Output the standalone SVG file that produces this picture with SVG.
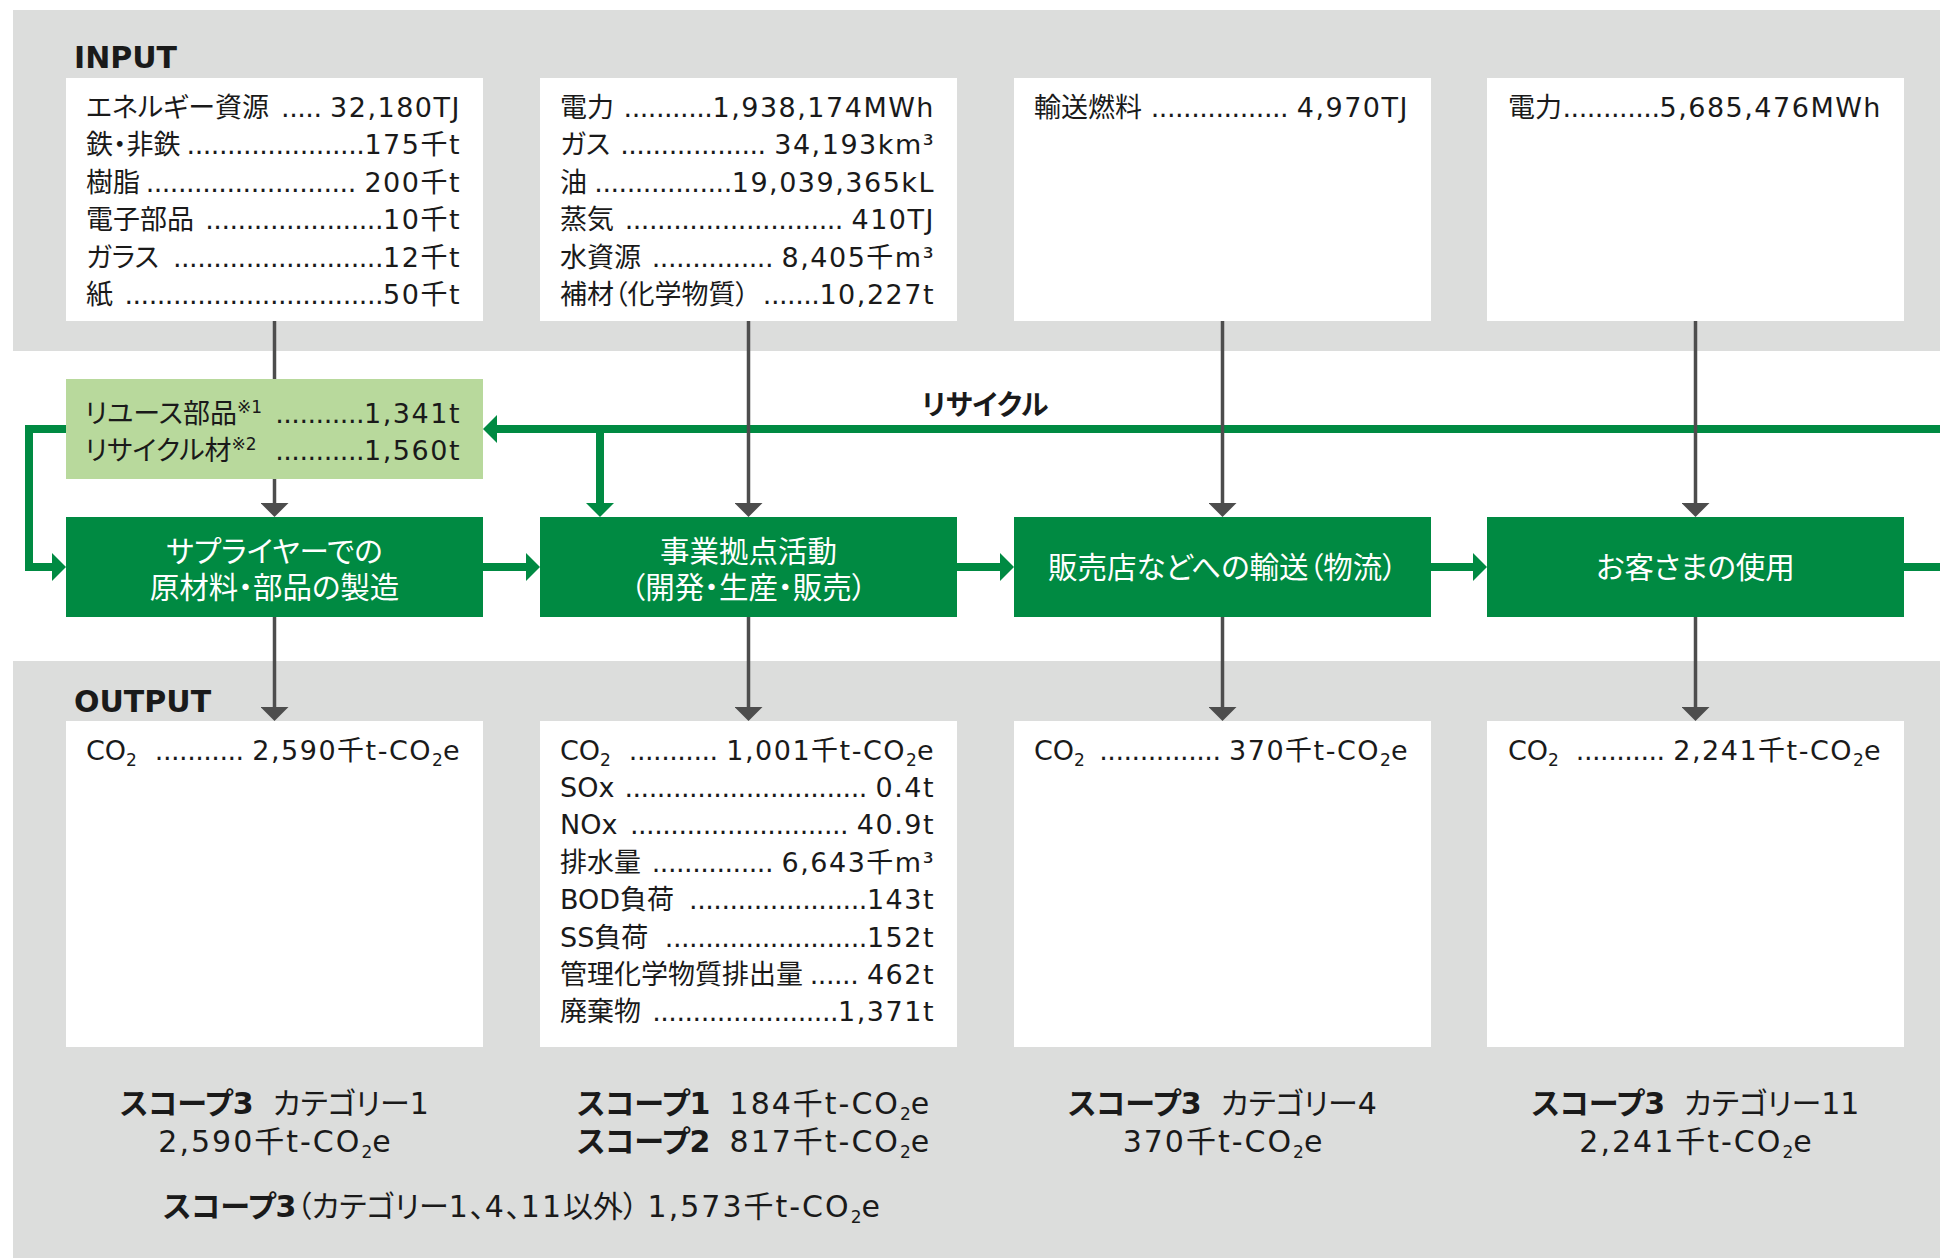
<svg xmlns="http://www.w3.org/2000/svg" width="1940" height="1258" viewBox="0 0 1940 1258">
<defs>
<style>
.panel{fill:#dcdddc}
.box{fill:#ffffff}
.lg{fill:#b8d99c}
.gb{fill:#008a42}
.t{font-family:"DejaVu Sans","Noto Sans CJK JP",sans-serif;font-size:27px;fill:#1a1a1a;font-feature-settings:"palt"}
.r{text-anchor:end}
.n{letter-spacing:1.5px}
.d{letter-spacing:-0.5px}
.s{font-size:17px}
.w{font-family:"DejaVu Sans","Noto Sans CJK JP",sans-serif;font-size:29.5px;fill:#ffffff;text-anchor:middle;font-feature-settings:"palt"}
.h{font-family:"DejaVu Sans","Noto Sans CJK JP",sans-serif;font-size:30px;font-weight:bold;fill:#1a1a1a}
.sc{font-family:"DejaVu Sans","Noto Sans CJK JP",sans-serif;font-size:30px;fill:#1a1a1a;font-feature-settings:"palt"}
.n2{letter-spacing:2px}
.m{text-anchor:middle}
.b{font-weight:bold}
.rl{font-family:"DejaVu Sans","Noto Sans CJK JP",sans-serif;font-size:28px;font-weight:bold;fill:#1a1a1a;text-anchor:middle;font-feature-settings:"palt"}
.gl{fill:none;stroke:#008a42;stroke-width:8;stroke-linejoin:miter}
.kl{fill:none;stroke:#4d4d4d;stroke-width:3.5}
</style>
<marker id="ga" viewBox="0 0 14 28" refX="0" refY="14" markerWidth="14" markerHeight="28" markerUnits="userSpaceOnUse" orient="auto">
<path d="M0,0 L14,14 L0,28 Z" fill="#008a42"/>
</marker>
<marker id="ka" viewBox="0 0 14 28" refX="0" refY="14" markerWidth="14" markerHeight="28" markerUnits="userSpaceOnUse" orient="auto">
<path d="M0,0 L14,14 L0,28 Z" fill="#4d4d4d"/>
</marker>
</defs>

<g id="panels">
<rect class="panel" x="13" y="10" width="1927" height="341"/>
<rect class="panel" x="13" y="661" width="1927" height="597"/>
<text class="h" x="74" y="68">INPUT</text>
<text class="h" x="74" y="712">OUTPUT</text>
</g>

<g id="input1">
<rect class="box" x="66" y="78" width="417" height="243"/>
<text class="t" x="86" y="117">エネルギー資源</text>
<text class="t r" x="461" y="117"><tspan class="d">.....</tspan> <tspan class="n">32,180TJ</tspan></text>
<text class="t" x="86" y="154">鉄・非鉄</text>
<text class="t r" x="461" y="154"><tspan class="d">......................</tspan><tspan class="n">175千t</tspan></text>
<text class="t" x="86" y="192">樹脂</text>
<text class="t r" x="461" y="192"><tspan class="d">..........................</tspan> <tspan class="n">200千t</tspan></text>
<text class="t" x="86" y="229">電子部品</text>
<text class="t r" x="461" y="229"><tspan class="d">......................</tspan><tspan class="n">10千t</tspan></text>
<text class="t" x="86" y="267">ガラス</text>
<text class="t r" x="461" y="267"><tspan class="d">..........................</tspan><tspan class="n">12千t</tspan></text>
<text class="t" x="86" y="304">紙</text>
<text class="t r" x="461" y="304"><tspan class="d">................................</tspan><tspan class="n">50千t</tspan></text>
</g>

<g id="input2">
<rect class="box" x="540" y="78" width="417" height="243"/>
<text class="t" x="560" y="117">電力</text>
<text class="t r" x="935" y="117"><tspan class="d">...........</tspan><tspan class="n">1,938,174MWh</tspan></text>
<text class="t" x="560" y="154">ガス</text>
<text class="t r" x="935" y="154"><tspan class="d">..................</tspan> <tspan class="n">34,193km³</tspan></text>
<text class="t" x="560" y="192">油</text>
<text class="t r" x="935" y="192"><tspan class="d">.................</tspan><tspan class="n">19,039,365kL</tspan></text>
<text class="t" x="560" y="229">蒸気</text>
<text class="t r" x="935" y="229"><tspan class="d">...........................</tspan> <tspan class="n">410TJ</tspan></text>
<text class="t" x="560" y="267">水資源</text>
<text class="t r" x="935" y="267"><tspan class="d">...............</tspan> <tspan class="n">8,405千m³</tspan></text>
<text class="t" x="560" y="304">補材（化学物質）</text>
<text class="t r" x="935" y="304"><tspan class="d">.......</tspan><tspan class="n">10,227t</tspan></text>
</g>

<g id="input3">
<rect class="box" x="1014" y="78" width="417" height="243"/>
<text class="t" x="1034" y="117">輸送燃料</text>
<text class="t r" x="1409" y="117"><tspan class="d">.................</tspan> <tspan class="n">4,970TJ</tspan></text>
</g>

<g id="input4">
<rect class="box" x="1487" y="78" width="417" height="243"/>
<text class="t" x="1508" y="117">電力</text>
<text class="t r" x="1882" y="117"><tspan class="d">............</tspan><tspan class="n">5,685,476MWh</tspan></text>
</g>

<g id="recycled">
<rect class="lg" x="66" y="379" width="417" height="100"/>
<text class="t" x="85" y="423">リユース部品<tspan class="s" dy="-10">※1</tspan></text>
<text class="t r" x="461" y="423"><tspan class="d">...........</tspan><tspan class="n">1,341t</tspan></text>
<text class="t" x="85" y="460">リサイクル材<tspan class="s" dy="-10">※2</tspan></text>
<text class="t r" x="461" y="460"><tspan class="d">...........</tspan><tspan class="n">1,560t</tspan></text>
</g>

<g id="stage1">
<rect class="gb" x="66" y="517" width="417" height="100"/>
<text class="w" x="274.5" y="562">サプライヤーでの</text>
<text class="w" x="274.5" y="598">原材料・部品の製造</text>
</g>
<g id="stage2">
<rect class="gb" x="540" y="517" width="417" height="100"/>
<text class="w" x="748.5" y="562">事業拠点活動</text>
<text class="w" x="748.5" y="598">（開発・生産・販売）</text>
</g>
<g id="stage3">
<rect class="gb" x="1014" y="517" width="417" height="100"/>
<text class="w" x="1222.5" y="578">販売店などへの輸送（物流）</text>
</g>
<g id="stage4">
<rect class="gb" x="1487" y="517" width="417" height="100"/>
<text class="w" x="1695.5" y="578">お客さまの使用</text>
</g>

<g id="output1">
<rect class="box" x="66" y="721" width="417" height="326"/>
<text class="t" x="86" y="760">CO<tspan class="s" dy="6">2</tspan></text>
<text class="t r" x="461" y="760"><tspan class="d">...........</tspan> <tspan class="n">2,590千t-CO</tspan><tspan class="s" dy="6">2</tspan><tspan class="n" dy="-6">e</tspan></text>
</g>

<g id="output2">
<rect class="box" x="540" y="721" width="417" height="326"/>
<text class="t" x="560" y="760">CO<tspan class="s" dy="6">2</tspan></text>
<text class="t r" x="935" y="760"><tspan class="d">...........</tspan> <tspan class="n">1,001千t-CO</tspan><tspan class="s" dy="6">2</tspan><tspan class="n" dy="-6">e</tspan></text>
<text class="t" x="560" y="797">SOx</text>
<text class="t r" x="935" y="797"><tspan class="d">..............................</tspan> <tspan class="n">0.4t</tspan></text>
<text class="t" x="560" y="834">NOx</text>
<text class="t r" x="935" y="834"><tspan class="d">...........................</tspan> <tspan class="n">40.9t</tspan></text>
<text class="t" x="560" y="872">排水量</text>
<text class="t r" x="935" y="872"><tspan class="d">...............</tspan> <tspan class="n">6,643千m³</tspan></text>
<text class="t" x="560" y="909">BOD負荷</text>
<text class="t r" x="935" y="909"><tspan class="d">......................</tspan><tspan class="n">143t</tspan></text>
<text class="t" x="560" y="947">SS負荷</text>
<text class="t r" x="935" y="947"><tspan class="d">.........................</tspan><tspan class="n">152t</tspan></text>
<text class="t" x="560" y="984">管理化学物質排出量</text>
<text class="t r" x="935" y="984"><tspan class="d">......</tspan> <tspan class="n">462t</tspan></text>
<text class="t" x="560" y="1021">廃棄物</text>
<text class="t r" x="935" y="1021"><tspan class="d">.......................</tspan><tspan class="n">1,371t</tspan></text>
</g>

<g id="output3">
<rect class="box" x="1014" y="721" width="417" height="326"/>
<text class="t" x="1034" y="760">CO<tspan class="s" dy="6">2</tspan></text>
<text class="t r" x="1409" y="760"><tspan class="d">...............</tspan> <tspan class="n">370千t-CO</tspan><tspan class="s" dy="6">2</tspan><tspan class="n" dy="-6">e</tspan></text>
</g>

<g id="output4">
<rect class="box" x="1487" y="721" width="417" height="326"/>
<text class="t" x="1508" y="760">CO<tspan class="s" dy="6">2</tspan></text>
<text class="t r" x="1882" y="760"><tspan class="d">...........</tspan> <tspan class="n">2,241千t-CO</tspan><tspan class="s" dy="6">2</tspan><tspan class="n" dy="-6">e</tspan></text>
</g>

<g id="scopes">
<text class="sc m" x="274.5" y="1114"><tspan class="b">スコープ3</tspan>&#160; カテゴリー1</text>
<text class="sc m" x="274.5" y="1152"><tspan class="n2">2,590千t-CO</tspan><tspan class="s" dy="6">2</tspan><tspan dy="-6">e</tspan></text>
<text class="sc" x="577" y="1114"><tspan class="b">スコープ1</tspan>&#160; <tspan class="n2">184千t-CO</tspan><tspan class="s" dy="6">2</tspan><tspan dy="-6">e</tspan></text>
<text class="sc" x="577" y="1152"><tspan class="b">スコープ2</tspan>&#160; <tspan class="n2">817千t-CO</tspan><tspan class="s" dy="6">2</tspan><tspan dy="-6">e</tspan></text>
<text class="sc m" x="1222.5" y="1114"><tspan class="b">スコープ3</tspan>&#160; カテゴリー4</text>
<text class="sc m" x="1222.5" y="1152"><tspan class="n2">370千t-CO</tspan><tspan class="s" dy="6">2</tspan><tspan dy="-6">e</tspan></text>
<text class="sc m" x="1695.5" y="1114"><tspan class="b">スコープ3</tspan>&#160; カテゴリー11</text>
<text class="sc m" x="1695.5" y="1152"><tspan class="n2">2,241千t-CO</tspan><tspan class="s" dy="6">2</tspan><tspan dy="-6">e</tspan></text>
<text class="sc" x="163" y="1217"><tspan class="b">スコープ3</tspan>（カテゴリー<tspan class="n2">1</tspan>、<tspan class="n2">4</tspan>、<tspan class="n2">11</tspan>以外） <tspan class="n2">1,573千t-CO</tspan><tspan class="s" dy="6">2</tspan><tspan dy="-6">e</tspan></text>
</g>

<g id="connectors">
<path class="gl" d="M1940,429 H497" marker-end="url(#ga)"/>
<path class="gl" d="M600,425 V503" marker-end="url(#ga)"/>
<path class="gl" d="M66,429 H29 V567 H52" marker-end="url(#ga)"/>
<path class="gl" d="M483,567 H526" marker-end="url(#ga)"/>
<path class="gl" d="M957,567 H1000" marker-end="url(#ga)"/>
<path class="gl" d="M1431,567 H1473" marker-end="url(#ga)"/>
<path class="gl" d="M1904,567 H1940"/>
<path class="kl" d="M274.5,321 V379"/>
<path class="kl" d="M274.5,479 V503" marker-end="url(#ka)"/>
<path class="kl" d="M748.5,321 V503" marker-end="url(#ka)"/>
<path class="kl" d="M1222.5,321 V503" marker-end="url(#ka)"/>
<path class="kl" d="M1695.5,321 V503" marker-end="url(#ka)"/>
<path class="kl" d="M274.5,617 V707" marker-end="url(#ka)"/>
<path class="kl" d="M748.5,617 V707" marker-end="url(#ka)"/>
<path class="kl" d="M1222.5,617 V707" marker-end="url(#ka)"/>
<path class="kl" d="M1695.5,617 V707" marker-end="url(#ka)"/>
<text class="rl" x="985" y="415">リサイクル</text>
</g>
</svg>
